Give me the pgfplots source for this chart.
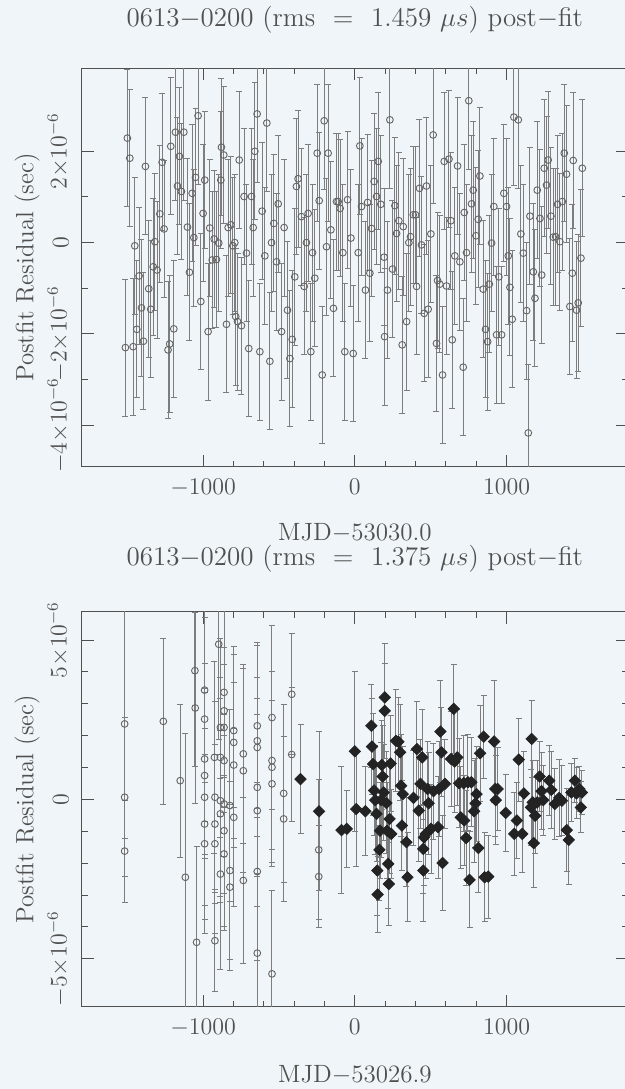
\RequirePackage{fix-cm}
\documentclass[border=0pt]{standalone}
\usepackage{fontspec}
\usepackage{pgfplots}
\pgfplotsset{compat=1.18}
\usepackage{pgfplotstable}
\definecolor{bg}{RGB}{239,245,248}
\definecolor{ink}{RGB}{80,80,80}
\definecolor{barc}{RGB}{125,125,125}
\definecolor{circ}{RGB}{100,100,100}
\definecolor{dia}{RGB}{35,35,35}

\pgfplotstableread{
x y e
-1512 -2.30 1.5
-1499 2.29 1.5
-1483 1.85 1.5
-1461 -2.28 1.5
-1450 -0.07 1.5
-1437 -1.90 1.5
-1422 -0.73 1.5
-1406 -1.43 1.5
-1393 -2.16 1.5
-1380 1.67 1.5
-1358 -1.01 1.5
-1345 -1.46 1.5
-1329 -0.53 1.5
-1318 0.02 1.5
-1303 -0.60 1.5
-1285 0.63 1.5
-1270 1.76 1.5
-1257 0.30 1.5
-1231 -2.35 1.5
-1220 -2.22 1.5
-1213 2.11 1.5
-1193 -1.89 1.5
-1182 2.42 1.5
-1169 1.24 1.5
-1156 1.89 1.5
-1143 1.12 1.5
-1127 2.42 1.5
-1103 0.34 1.5
-1090 -0.65 1.5
-1072 1.08 1.5
-1061 0.11 1.5
-1050 1.43 1.5
-1033 2.78 1.5
-1015 -1.29 1.5
-1000 0.64 1.5
-989 1.37 1.5
-967 -1.95 1.5
-956 0.32 1.5
-940 -0.38 1.5
-927 0.08 1.5
-912 -0.37 1.5
-897 -0.01 1.5
-883 1.37 1.5
-879 2.09 1.5
-864 1.92 1.5
-846 -1.79 1.5
-835 0.33 1.5
-817 0.39 1.5
-804 -0.07 1.5
-791 0.00 1.5
-785 -1.62 1.5
-773 -1.73 1.5
-762 1.81 1.5
-747 -1.82 1.5
-730 1.01 1.5
-714 -0.23 1.5
-699 -2.32 1.5
-681 1.01 1.5
-670 0.33 1.5
-659 2.00 1.5
-644 2.82 1.5
-626 -2.39 1.5
-611 0.69 1.5
-593 -0.29 1.5
-580 2.62 1.5
-560 -2.60 1.5
-549 0.00 1.5
-534 0.42 1.5
-516 -0.42 1.5
-505 0.85 1.5
-483 -1.95 1.5
-466 0.33 1.5
-444 -1.48 1.5
-428 -2.54 1.5
-413 -2.12 1.5
-396 -0.75 1.5
-385 1.23 1.5
-374 1.40 1.5
-352 0.57 1.5
-334 -0.96 1.5
-319 0.00 1.5
-308 0.64 1.5
-290 -2.39 1.5
-279 -0.22 1.5
-264 -0.78 1.5
-248 1.96 1.5
-235 0.92 1.5
-215 -2.90 1.5
-202 2.67 1.5
-187 -0.09 1.5
-176 1.96 1.5
-158 0.28 1.5
-141 -1.44 1.5
-121 0.90 1.5
-110 0.90 1.5
-97 0.75 1.5
-79 -0.22 1.5
-66 -2.39 1.5
-48 0.94 1.5
-26 0.10 1.5
-11 -2.43 1.5
22 -0.22 1.5
33 2.12 1.5
44 0.79 1.5
70 -1.04 1.5
84 0.88 1.5
99 -0.67 1.5
110 0.31 1.5
127 1.34 1.5
143 1.01 1.5
154 1.78 1.5
171 0.84 1.5
193 -0.32 1.5
196 -2.06 1.5
215 -1.04 1.5
231 2.69 1.5
248 -0.58 1.5
264 0.81 1.5
275 0.20 1.5
290 0.48 1.5
312 -2.24 1.5
319 0.35 1.5
341 -1.73 1.5
356 0.00 1.5
367 0.13 1.5
385 0.61 1.5
400 0.61 1.5
407 -0.96 1.5
426 1.19 1.5
439 -0.05 1.5
457 -1.55 1.5
472 1.24 1.5
483 -1.46 1.5
501 0.19 1.5
516 2.36 1.5
538 -2.21 1.5
545 -0.83 1.5
560 -0.91 1.5
578 -2.90 1.5
589 1.78 1.5
604 -0.95 1.5
620 1.83 1.5
633 0.48 1.5
642 -2.13 1.5
659 -0.29 1.5
677 1.68 1.5
692 -0.42 1.5
714 -2.73 1.5
721 0.66 1.5
736 -0.22 1.5
751 3.11 1.5
769 0.85 1.5
780 1.15 1.5
798 0.15 1.5
813 0.51 1.5
824 1.46 1.5
846 -1.02 1.5
861 -1.90 1.5
875 -2.17 1.5
886 -0.91 1.5
901 -0.01 1.5
916 0.79 1.5
934 -2.02 1.5
949 -0.75 1.5
967 -2.02 1.5
982 1.08 1.5
1000 0.79 1.5
1011 -0.29 1.5
1022 -0.98 1.5
1037 -1.68 1.5
1048 2.75 1.5
1077 2.69 1.5
1094 0.19 1.5
1110 -0.23 1.5
1132 -1.49 1.5
1143 -4.17 1.5
1154 0.58 1.5
1176 -0.64 1.5
1187 -1.22 1.5
1202 1.15 1.5
1220 0.53 1.5
1231 -0.71 1.5
1248 1.63 1.5
1263 1.26 1.5
1274 1.81 1.5
1292 0.58 1.5
1307 0.12 1.5
1323 0.13 1.5
1336 0.84 1.5
1351 0.02 1.5
1367 0.90 1.5
1380 1.96 1.5
1395 1.50 1.5
1417 -1.40 1.5
1433 -0.67 1.5
1439 1.80 1.5
1461 -1.48 1.5
1472 -1.32 1.5
1490 -0.34 1.5
1499 1.63 1.5
}\topdata

\pgfplotstableread{
x y e
-1517 2.37 3.6
-1517 0.07 2.5
-1517 -1.62 1.6
-1262 2.45 2.6
-1151 0.59 2.4
-1117 -2.44 4.5
-1054 4.04 3.0
-1052 2.87 3.0
-1043 -4.48 3.0
-990 3.43 2.9
-990 2.52 3.2
-990 1.27 3.0
-990 0.75 2.6
-990 0.07 3.4
-990 -0.77 3.0
-990 -1.39 2.8
-925 1.32 3.0
-922 0.07 3.0
-922 -0.77 2.5
-922 -1.39 2.8
-922 -4.43 1.6
-897 4.87 3.0
-886 2.26 2.8
-886 1.32 2.5
-886 -0.04 3.2
-886 -0.45 2.6
-886 -2.34 3.0
-862 3.36 2.6
-862 2.78 3.2
-862 2.26 2.5
-862 1.22 3.0
-862 -0.14 2.8
-862 -0.98 3.0
-862 -1.71 2.4
-823 -0.19 3.0
-823 -2.23 2.8
-823 -2.75 2.6
-798 2.16 2.4
-798 1.79 3.0
-798 1.08 2.6
-798 -0.56 2.8
-735 1.43 2.8
-735 0.90 3.2
-735 -2.54 2.6
-643 2.31 2.6
-643 1.84 3.0
-643 1.63 2.2
-643 0.38 2.8
-643 -0.35 3.0
-643 -2.26 2.8
-643 -4.82 2.5
-546 2.57 2.9
-546 1.22 2.8
-546 1.01 3.0
-546 0.49 2.6
-546 -5.47 2.6
-469 0.19 2.8
-469 -0.61 2.6
-416 3.30 1.9
-416 1.41 2.1
-238 -1.58 2.2
-238 -2.42 1.6
}\botcirc

\pgfplotstableread{
x y e
-358 0.64 1.7
-236 -0.37 2.5
-88 -0.96 2.0
-53 -0.92 1.2
0 1.51 2.5
9 -0.30 1.8
69 -0.37 1.4
109 2.31 1.3
113 1.66 1.5
120 1.11 1.6
127 0.28 1.4
134 -0.02 1.7
143 -0.45 1.5
148 -2.23 1.4
150 -2.98 1.2
162 -1.58 1.6
166 -0.98 1.5
173 -0.02 1.8
178 1.08 1.4
183 0.72 1.6
190 0.22 1.5
197 3.20 1.7
197 2.78 1.5
208 -0.11 1.6
213 -0.98 1.5
220 -2.02 1.4
224 -2.65 1.3
229 -0.61 1.7
236 1.13 1.5
240 -1.08 1.4
271 1.84 1.6
287 1.81 1.4
298 1.48 1.5
305 0.43 1.6
310 -0.82 1.4
316 0.17 1.5
340 -1.34 1.4
347 -2.44 1.4
386 0.05 1.5
409 1.58 1.5
421 -0.35 1.6
432 0.49 1.4
444 1.32 1.5
451 -1.55 1.4
451 -2.23 1.6
455 -1.19 1.5
467 -1.08 1.4
479 0.33 1.5
486 -0.12 1.6
502 -0.92 1.4
518 0.26 1.5
548 -0.87 1.6
555 0.33 1.5
564 2.13 1.6
571 1.48 1.4
578 -1.99 1.5
594 0.49 1.4
634 1.27 1.5
652 2.84 1.4
657 1.19 1.6
675 1.32 1.5
687 0.51 1.4
698 -0.56 1.6
717 0.51 1.5
721 -0.66 1.4
733 -1.21 1.5
745 0.54 1.5
756 -2.52 1.5
768 0.54 1.4
786 -0.37 1.6
795 -0.12 1.4
802 0.17 1.5
814 -1.52 1.4
825 1.45 1.5
849 1.97 1.3
855 -2.44 1.4
879 -2.42 1.3
918 1.82 1.9
925 0.33 1.5
929 -0.02 1.4
941 0.33 1.3
994 -0.42 1.2
1050 -1.08 1.3
1068 -0.66 1.2
1080 1.25 1.3
1103 -1.08 1.2
1114 0.19 1.3
1161 -0.25 1.2
1165 1.90 1.2
1172 -0.09 1.3
1179 -1.37 1.4
1188 -0.51 1.2
1202 -0.09 1.3
1218 0.72 1.1
1230 0.26 1.2
1242 -0.02 1.1
1281 0.59 1.1
1295 0.30 1.2
1318 -0.14 1.1
1346 0.05 1.2
1364 -0.04 1.1
1397 -0.96 1.3
1410 -1.27 1.4
1427 0.22 0.9
1450 0.59 0.7
1461 0.19 0.8
1480 0.33 0.7
1489 -0.25 0.8
1496 0.22 0.7
}\botdia

\pgfplotsset{
  resid/.style={
    scale only axis, width=273.15pt,
    xmin=-1800, xmax=1800,
    axis background/.style={fill=bg},
    axis line style={ink, line width=0.6pt},
    tick style={ink, line width=0.5pt},
    major tick length=6pt, minor tick length=3pt,
    xtick={-1000,0,1000}, minor x tick num=4,
    /pgf/number format/set thousands separator={},
    tick label style={font=\fontsize{12}{14}\selectfont, text=ink},
    every axis title/.style={anchor=center, font=\fontsize{13.5}{16}\selectfont, text=ink},
    yticklabel style={rotate=90, anchor=south},
    yticklabel shift=3pt,
    xticklabel shift=2.5pt,
    ylabel={Postfit Residual (sec)},
    every axis y label/.style={at={(axis description cs:-0.1001,0.5)}, rotate=90, anchor=center,
      font=\fontsize{12.5}{15}\selectfont, text=ink},
    error bars/y dir=both, error bars/y explicit,
    error bars/error bar style={barc, line width=0.5pt},
    error bars/error mark options={barc, line width=0.5pt, mark size=1.5pt, rotate=90},
  },
  circs/.style={only marks, mark=o, mark size=1.7pt, mark options={circ, line width=0.45pt}},
  dias/.style={only marks, mark=square*, mark size=2pt, mark options={dia, fill=dia, rotate=45}},
}

\begin{document}
\begin{tikzpicture}
\fill[bg] (0,0) rectangle (312.5pt,544.5pt);
\path[use as bounding box] (0,0) rectangle (312.5pt,544.5pt);

\begin{axis}[resid, at={(40.85pt,311.15pt)}, anchor=south west,
  height=199.2pt, ymin=-4.91, ymax=3.82,
  ytick={-4,-2,0,2}, minor y tick num=1,
  yticklabels={$-4{\times}10^{-6}$,$-2{\times}10^{-6}$,$0$,$2{\times}10^{-6}$},
  title={0613$-$0200 (rms \ = \ 1.459 $\mu s$) post$-$fit},
  title style={at={(axis description cs:0.5,1.123)}},
  xlabel={MJD$-$53030.0},
  every axis x label/.style={at={(axis description cs:0.5,-0.166)}, anchor=center,
    font=\fontsize{12.5}{15}\selectfont, text=ink},
]
\addplot[circs] table[x=x, y=y, y error=e] {\topdata};
\end{axis}

\begin{axis}[resid, at={(40.85pt,41.15pt)}, anchor=south west,
  height=197.5pt, ymin=-6.5, ymax=5.89,
  ytick={-5,0,5}, minor y tick num=4,
  yticklabels={$-5{\times}10^{-6}$,$0$,$5{\times}10^{-6}$},
  title={0613$-$0200 (rms \ = \ 1.375 $\mu s$) post$-$fit},
  title style={at={(axis description cs:0.5,1.1337)}},
  xlabel={MJD$-$53026.9},
  every axis x label/.style={at={(axis description cs:0.5,-0.172)}, anchor=center,
    font=\fontsize{12.5}{15}\selectfont, text=ink},
]
\addplot[circs] table[x=x, y=y, y error=e] {\botcirc};
\addplot[dias] table[x=x, y=y, y error=e] {\botdia};
\end{axis}
\end{tikzpicture}
\end{document}
